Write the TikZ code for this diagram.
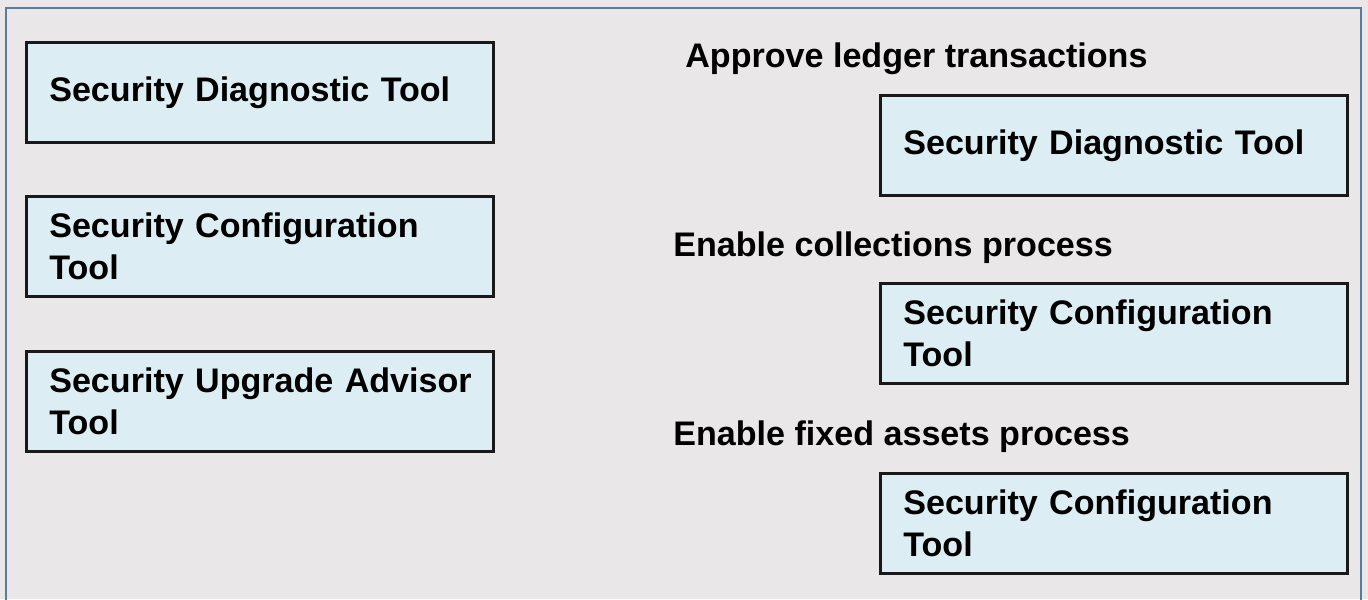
\documentclass[tikz,border=0pt]{standalone}
\usepackage{fontspec}
\setmainfont{Liberation Sans}
\usetikzlibrary{positioning}

\definecolor{pagebg}{HTML}{E9E7E8}
\definecolor{framecol}{HTML}{5B7B9C}
\definecolor{boxfill}{HTML}{DCEEF3}

\begin{document}
\begin{tikzpicture}[x=0.02cm, y=-0.02cm,
    every node/.style={font=\fontsize{19.4}{23.5}\selectfont\bfseries},
    toolbox/.style={draw=black!90, line width=1.5pt, fill=boxfill, anchor=north west,
        minimum width=9.35cm, minimum height=2.0cm, text width=8.43cm,
        inner xsep=0.46cm, align=left},
    heading/.style={anchor=west, inner sep=0pt}]
    % Background and frame
    \useasboundingbox (0,0) rectangle (1368,599);
    \fill[pagebg] (0,0) rectangle (1368,599);
    \draw[framecol, line width=1.6pt] (6,606) -- (6,8) -- (1361,8) -- (1361,606);
    % Left column: tools
    \node[toolbox] (diag) at (25,41) {Security Diagnostic Tool};
    \node[toolbox] (config) at (25,195) {Security Configuration\\Tool};
    \node[toolbox] (upgrade) at (25,350) {\mbox{Security Upgrade Advisor}\\Tool};
    % Right column: tasks
    \node[heading] (ledger) at (685,59) {Approve ledger transactions};
    \node[toolbox] (ansa) at (879,94) {Security Diagnostic Tool};
    \node[heading] (collect) at (673,248) {Enable collections process};
    \node[toolbox] (ansb) at (879,282) {Security Configuration\\Tool};
    \node[heading] (assets) at (673,437) {Enable fixed assets process};
    \node[toolbox] (ansc) at (879,472) {Security Configuration\\Tool};
\end{tikzpicture}
\end{document}
